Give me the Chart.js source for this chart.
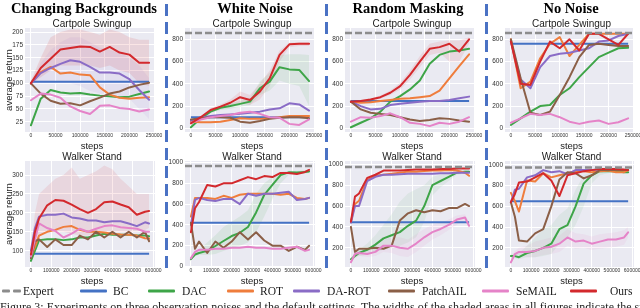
<!DOCTYPE html>
<html>
<head>
<meta charset="utf-8">
<script src="https://cdn.jsdelivr.net/npm/chart.js@4.4.1/dist/chart.umd.min.js"></script>
<style>
body { margin: 0; width: 640px; height: 308px; overflow: hidden; background: #fff; position: relative; font-family: "Liberation Sans", Arial, sans-serif; }
canvas { position: absolute; }
.txt { position: absolute; white-space: nowrap; color: #1a1a1a; }
.hd { font: bold 14.5px "Liberation Serif", serif; transform: translate(-50%, -50%); color: #000; }
.st { font-size: 10px; transform: translate(-50%, -50%); }
.ax { font-size: 9.5px; transform: translate(-50%, -50%); }
.yl { font-size: 9.5px; transform: translate(-50%, -50%) rotate(-90deg); }
.sep { position: absolute; top: 4px; width: 2.5px; height: 266px; background: repeating-linear-gradient(to bottom, #4a72c4 0 12px, transparent 12px 18px); }
.lg { font: 11.5px "Liberation Serif", serif; transform: translateY(-50%); }
.sw { position: absolute; height: 3px; border-radius: 1px; transform: translateY(-50%); }
.cap { font: 12px "Liberation Serif", serif; top: 300px; left: 0; }
</style>
</head>
<body>
<script>
// x positions of the data points
const stepsTop = [0, 20000, 40000, 60000, 80000, 100000, 120000, 140000, 160000, 180000, 200000, 220000, 240000];
const stepsBottom = [0, 20000, 40000, 80000, 120000, 160000, 200000, 240000, 280000, 320000, 360000, 400000, 440000, 480000, 520000, 560000, 580000];
const xTicksTop = [0, 50000, 100000, 150000, 200000, 250000];
const xTicksBottom = [0, 100000, 200000, 300000, 400000, 500000, 600000];

// Changing Backgrounds - Cartpole Swingup
const cbCOurs = [100, 130, 148, 166, 169, 172, 171, 162, 171, 160, 156, 140, 140];
const cbCSeMAIL = [67, 80, 78, 72, 55, 46, 40, 56, 57, 52, 50, 45, 49];
const cbCPatchAIL = [100, 80, 66, 60, 61, 57, 65, 72, 80, 84, 92, 97, 101];
const cbCDAROT = [100, 120, 130, 138, 145, 142, 132, 121, 121, 119, 108, 87, 68];
const cbCROT = [100, 122, 132, 119, 121, 117, 116, 92, 78, 72, 70, 72, 73];
const cbCDAC = [18, 70, 87, 82, 80, 81, 78, 76, 75, 73, 74, 79, 84];
const cbCBC = 103;
const cbCOursHi = [105, 150, 190, 200, 205, 205, 200, 195, 205, 200, 190, 185, 185];
const cbCOursLo = [98, 112, 125, 135, 135, 135, 135, 130, 135, 125, 120, 100, 95];
const cbCDAROTHi = [102, 140, 165, 180, 190, 190, 180, 170, 165, 160, 150, 135, 110];
const cbCDAROTLo = [98, 100, 100, 100, 100, 95, 85, 80, 80, 75, 70, 50, 30];

// White Noise - Cartpole Swingup
const wnCOurs = [45, 100, 165, 195, 230, 280, 255, 330, 450, 660, 755, 760, 760];
const wnCSeMAIL = [50, 80, 100, 110, 120, 140, 150, 130, 100, 95, 40, 30, 80];
const wnCPatchAIL = [80, 90, 100, 100, 95, 60, 50, 65, 85, 95, 100, 100, 90];
const wnCDAROT = [70, 95, 110, 120, 125, 130, 140, 150, 170, 180, 225, 215, 160];
const wnCROT = [60, 55, 55, 60, 75, 90, 85, 85, 90, 100, 110, 110, 110];
const wnCDAC = [10, 90, 150, 185, 200, 220, 240, 360, 420, 550, 530, 525, 425];
const wnCBC = 100;
const wnCExpert = 858;
const wnCDACHi = [15, 100, 165, 205, 225, 245, 270, 420, 500, 660, 665, 665, 660];
const wnCDACLo = [5, 80, 135, 165, 175, 195, 210, 300, 340, 430, 400, 380, 200];
const wnCOursHi = [55, 110, 180, 215, 260, 330, 300, 400, 520, 700, 770, 775, 775];
const wnCOursLo = [40, 90, 150, 175, 200, 230, 210, 260, 380, 600, 730, 740, 740];

// Random Masking - Cartpole Swingup
const rmCOurs = [240, 245, 260, 280, 320, 380, 480, 600, 715, 730, 760, 690, 800];
const rmCSeMAIL = [60, 100, 95, 110, 135, 100, 50, 40, 20, 50, 40, 60, 100];
const rmCPatchAIL = [240, 170, 140, 130, 120, 100, 80, 65, 75, 90, 85, 70, 60];
const rmCDAROT = [240, 200, 170, 175, 210, 220, 230, 240, 245, 245, 255, 270, 285];
const rmCROT = [240, 230, 235, 245, 255, 265, 270, 280, 290, 340, 450, 560, 665];
const rmCDAC = [10, 50, 90, 150, 240, 290, 350, 430, 580, 660, 690, 700, 715];
const rmCBC = 245;
const rmCExpert = 858;
const rmCOursHi = [250, 255, 270, 295, 340, 410, 520, 650, 760, 780, 790, 790, 820];
const rmCOursLo = [235, 240, 250, 265, 300, 350, 440, 550, 660, 680, 600, 600, 760];

// No Noise - Cartpole Swingup
const nnCOurs = [780, 400, 390, 600, 780, 720, 800, 700, 850, 850, 800, 750, 850];
const nnCSeMAIL = [50, 90, 130, 120, 130, 100, 60, 40, 60, 70, 40, 55, 90];
const nnCPatchAIL = [800, 450, 140, 120, 150, 300, 460, 640, 750, 760, 750, 740, 740];
const nnCDAROT = [780, 440, 360, 550, 650, 670, 680, 700, 720, 780, 790, 830, 850];
const nnCROT = [800, 360, 420, 630, 760, 820, 650, 750, 850, 850, 850, 850, 850];
const nnCDAC = [30, 90, 150, 200, 210, 300, 360, 460, 550, 640, 680, 720, 725];
const nnCBC = 760;
const nnCExpert = 858;

// Changing Backgrounds - Walker Stand
const cbWOurs = [90, 150, 185, 220, 234, 232, 222, 210, 200, 210, 228, 230, 222, 215, 195, 203, 205];
const cbWSeMAIL = [85, 130, 172, 160, 152, 135, 145, 158, 150, 158, 165, 167, 162, 160, 158, 150, 150];
const cbWPatchAIL = [80, 125, 130, 110, 130, 115, 115, 140, 130, 150, 135, 150, 135, 150, 135, 150, 125];
const cbWDAROT = [100, 160, 190, 195, 195, 198, 188, 185, 180, 180, 175, 178, 178, 172, 165, 175, 172];
const cbWROT = [85, 110, 140, 150, 155, 163, 165, 155, 150, 150, 148, 145, 143, 142, 140, 133, 132];
const cbWDAC = [73, 100, 128, 130, 130, 128, 130, 135, 135, 140, 145, 142, 142, 142, 140, 140, 138];
const cbWBC = 92;
const cbWOursHi = [100, 200, 250, 270, 290, 300, 320, 290, 300, 310, 325, 315, 290, 270, 250, 250, 250];
const cbWOursLo = [80, 110, 140, 150, 150, 150, 145, 140, 140, 145, 150, 150, 150, 150, 150, 155, 160];

// White Noise - Walker Stand
const wnWOurs = [330, 560, 620, 785, 770, 800, 800, 830, 860, 840, 870, 860, 900, 900, 890, 910, 930];
const wnWSeMAIL = [80, 140, 160, 160, 170, 170, 180, 180, 190, 180, 180, 170, 170, 180, 190, 150, 160];
const wnWPatchAIL = [420, 170, 240, 130, 240, 180, 240, 330, 260, 330, 250, 200, 200, 150, 190, 160, 200];
const wnWDAROT = [400, 640, 660, 640, 630, 650, 650, 600, 700, 680, 700, 700, 710, 720, 640, 650, 660];
const wnWROT = [480, 660, 660, 660, 650, 680, 660, 690, 700, 700, 700, 700, 690, 700, 660, 650, 660];
const wnWDAC = [70, 115, 130, 150, 197, 245, 293, 324, 380, 520, 690, 785, 880, 906, 905, 910, 915];
const wnWBC = 420;
const wnWExpert = 968;
const wnWDACHi = [80, 140, 160, 230, 300, 380, 430, 480, 540, 700, 800, 860, 910, 920, 920, 925, 925];
const wnWDACLo = [60, 100, 110, 110, 120, 150, 180, 200, 230, 330, 480, 650, 800, 880, 890, 895, 900];

// Random Masking - Walker Stand
const rmWOurs = [450, 690, 720, 870, 900, 940, 940, 940, 945, 950, 950, 950, 955, 955, 960, 960, 960];
const rmWSeMAIL = [60, 140, 150, 140, 160, 220, 220, 200, 190, 240, 300, 350, 380, 420, 470, 490, 410];
const rmWPatchAIL = [400, 160, 190, 190, 200, 190, 220, 460, 530, 560, 540, 560, 550, 580, 580, 620, 600];
const rmWDAROT = [440, 600, 600, 840, 880, 900, 900, 905, 910, 910, 910, 910, 915, 915, 920, 920, 920];
const rmWROT = [450, 620, 650, 850, 890, 900, 910, 920, 930, 930, 935, 940, 940, 945, 940, 920, 890];
const rmWDAC = [90, 120, 150, 180, 230, 290, 320, 350, 410, 460, 600, 800, 840, 880, 920, 930, 930];
const rmWBC = 445;
const rmWExpert = 975;
const rmWDACHi = [100, 140, 180, 240, 320, 420, 520, 640, 720, 760, 800, 880, 900, 920, 940, 945, 945];
const rmWDACLo = [80, 100, 120, 130, 160, 180, 200, 220, 250, 300, 450, 700, 780, 840, 900, 910, 910];
const rmWSeMAILHi = [70, 160, 180, 170, 200, 280, 300, 300, 280, 330, 380, 420, 440, 470, 510, 520, 440];
const rmWSeMAILLo = [50, 120, 120, 110, 120, 160, 150, 120, 110, 160, 220, 280, 320, 370, 420, 460, 380];

// No Noise - Walker Stand
const nnWOurs = [640, 720, 830, 840, 880, 920, 850, 700, 900, 920, 940, 950, 960, 960, 960, 955, 950];
const nnWSeMAIL = [60, 140, 160, 160, 170, 200, 210, 240, 300, 260, 270, 240, 260, 280, 280, 300, 350];
const nnWPatchAIL = [640, 500, 270, 260, 340, 380, 600, 860, 930, 920, 870, 900, 950, 950, 950, 950, 950];
const nnWDAROT = [640, 760, 770, 880, 900, 950, 930, 940, 910, 950, 950, 950, 955, 955, 950, 950, 950];
const nnWROT = [730, 650, 550, 850, 840, 920, 880, 900, 920, 940, 940, 930, 940, 945, 930, 930, 950];
const nnWDAC = [120, 120, 110, 150, 170, 200, 240, 380, 420, 600, 820, 900, 940, 940, 940, 930, 930];
const nnWBC = 650;
const nnWExpert = 975;
const nnWDACHi = [140, 150, 150, 220, 300, 380, 420, 520, 580, 760, 900, 930, 950, 950, 950, 940, 940];
const nnWDACLo = [100, 100, 90, 110, 110, 120, 140, 240, 300, 420, 600, 820, 900, 920, 930, 920, 920];
const nnWSeMAILHi = [80, 170, 200, 220, 260, 280, 300, 320, 380, 340, 330, 310, 330, 340, 350, 370, 400];
const nnWSeMAILLo = [40, 120, 130, 110, 110, 130, 140, 160, 220, 190, 200, 180, 190, 200, 210, 230, 300];

// y tick labels
const yTicksCbC = [25, 50, 75, 100, 125, 150, 175, 200];
const yTicksCart = [0, 200, 400, 600, 800];
const yTicksCbW = [100, 150, 200, 250, 300];
const yTicksWnW = [0, 200, 400, 600, 800, 1000];
const yTicksWalker = [200, 400, 600, 800, 1000];

const colors = {
    'Expert': '#8c8c8c', 'BC': '#4472c4', 'DAC': '#3ea548', 'ROT': '#ef7d3c',
    'DA-ROT': '#8a6cc6', 'PatchAIL': '#8b5f47', 'SeMAIL': '#e583c8', 'Ours': '#d3292d'
};

function band(hex, alpha) {
    const n = parseInt(hex.slice(1), 16);
    return `rgba(${n >> 16},${(n >> 8) & 255},${n & 255},${alpha})`;
}

const colLeft = [25, 185, 345, 505];
const rowTop = [28, 161];
const rowHeight = [104, 106];

const panels = [
    { col: 0, row: 0, title: 'Cartpole Swingup', steps: stepsTop, xTicks: xTicksTop, yMin: 5, yMax: 208, yTicks: yTicksCbC,
      lines: { 'Ours': cbCOurs, 'SeMAIL': cbCSeMAIL, 'PatchAIL': cbCPatchAIL, 'DA-ROT': cbCDAROT, 'ROT': cbCROT, 'DAC': cbCDAC },
      bc: cbCBC, expert: null,
      bands: [['Ours', cbCOursHi, cbCOursLo, 0.12], ['DA-ROT', cbCDAROTHi, cbCDAROTLo, 0.08]] },
    { col: 1, row: 0, title: 'Cartpole Swingup', steps: stepsTop, xTicks: xTicksTop, yMin: -33, yMax: 902, yTicks: yTicksCart,
      lines: { 'Ours': wnCOurs, 'SeMAIL': wnCSeMAIL, 'PatchAIL': wnCPatchAIL, 'DA-ROT': wnCDAROT, 'ROT': wnCROT, 'DAC': wnCDAC },
      bc: wnCBC, expert: wnCExpert,
      bands: [['DAC', wnCDACHi, wnCDACLo, 0.1], ['Ours', wnCOursHi, wnCOursLo, 0.1]] },
    { col: 2, row: 0, title: 'Cartpole Swingup', steps: stepsTop, xTicks: xTicksTop, yMin: -33, yMax: 902, yTicks: yTicksCart,
      lines: { 'Ours': rmCOurs, 'SeMAIL': rmCSeMAIL, 'PatchAIL': rmCPatchAIL, 'DA-ROT': rmCDAROT, 'ROT': rmCROT, 'DAC': rmCDAC },
      bc: rmCBC, expert: rmCExpert,
      bands: [['Ours', rmCOursHi, rmCOursLo, 0.1]] },
    { col: 3, row: 0, title: 'Cartpole Swingup', steps: stepsTop, xTicks: xTicksTop, yMin: -33, yMax: 902, yTicks: yTicksCart,
      lines: { 'Ours': nnCOurs, 'SeMAIL': nnCSeMAIL, 'PatchAIL': nnCPatchAIL, 'DA-ROT': nnCDAROT, 'ROT': nnCROT, 'DAC': nnCDAC },
      bc: nnCBC, expert: nnCExpert, bands: [] },
    { col: 0, row: 1, title: 'Walker Stand', steps: stepsBottom, xTicks: xTicksBottom, yMin: 57, yMax: 337, yTicks: yTicksCbW,
      lines: { 'Ours': cbWOurs, 'SeMAIL': cbWSeMAIL, 'PatchAIL': cbWPatchAIL, 'DA-ROT': cbWDAROT, 'ROT': cbWROT, 'DAC': cbWDAC },
      bc: cbWBC, expert: null,
      bands: [['Ours', cbWOursHi, cbWOursLo, 0.1]] },
    { col: 1, row: 1, title: 'Walker Stand', steps: stepsBottom, xTicks: xTicksBottom, yMin: -5, yMax: 1015, yTicks: yTicksWnW,
      lines: { 'Ours': wnWOurs, 'SeMAIL': wnWSeMAIL, 'PatchAIL': wnWPatchAIL, 'DA-ROT': wnWDAROT, 'ROT': wnWROT, 'DAC': wnWDAC },
      bc: wnWBC, expert: wnWExpert,
      bands: [['DAC', wnWDACHi, wnWDACLo, 0.1]] },
    { col: 2, row: 1, title: 'Walker Stand', steps: stepsBottom, xTicks: xTicksBottom, yMin: 15, yMax: 1032, yTicks: yTicksWalker,
      lines: { 'Ours': rmWOurs, 'SeMAIL': rmWSeMAIL, 'PatchAIL': rmWPatchAIL, 'DA-ROT': rmWDAROT, 'ROT': rmWROT, 'DAC': rmWDAC },
      bc: rmWBC, expert: rmWExpert,
      bands: [['DAC', rmWDACHi, rmWDACLo, 0.08], ['SeMAIL', rmWSeMAILHi, rmWSeMAILLo, 0.1]] },
    { col: 3, row: 1, title: 'Walker Stand', steps: stepsBottom, xTicks: xTicksBottom, yMin: 15, yMax: 1038, yTicks: yTicksWalker,
      lines: { 'Ours': nnWOurs, 'SeMAIL': nnWSeMAIL, 'PatchAIL': nnWPatchAIL, 'DA-ROT': nnWDAROT, 'ROT': nnWROT, 'DAC': nnWDAC },
      bc: nnWBC, expert: nnWExpert,
      bands: [['DAC', nnWDACHi, nnWDACLo, 0.08], ['SeMAIL', nnWSeMAILHi, nnWSeMAILLo, 0.1]] }
];

const headers = ['Changing Backgrounds', 'White Noise', 'Random Masking', 'No Noise'];
const headerX = [84, 255, 408, 571];
const legendNames = ['Expert', 'BC', 'DAC', 'ROT', 'DA-ROT', 'PatchAIL', 'SeMAIL', 'Ours'];
const legendX = [2, 80, 148, 227, 293, 388, 482, 570];

const bgPlugin = {
    id: 'bg',
    beforeDraw(chart) {
        const a = chart.chartArea;
        chart.ctx.save();
        chart.ctx.fillStyle = '#eaeaf2';
        chart.ctx.fillRect(a.left, a.top, a.right - a.left, a.bottom - a.top);
        chart.ctx.restore();
    }
};

function addText(cls, text, x, y) {
    const d = document.createElement('div');
    d.className = 'txt ' + cls;
    d.textContent = text;
    d.style.left = x + 'px';
    d.style.top = y + 'px';
    document.body.appendChild(d);
    return d;
}

const AXW = 22, PADT = 6, PADR = 12, AXH = 10;

panels.forEach(p => {
    const left = colLeft[p.col], top = rowTop[p.row], h = rowHeight[p.row];
    const w = p.col === 3 ? 129 : 130;
    const cv = document.createElement('canvas');
    cv.width = AXW + w + PADR;
    cv.height = PADT + h + AXH;
    cv.style.left = (left - AXW) + 'px';
    cv.style.top = (top - PADT) + 'px';
    cv.style.width = cv.width + 'px';
    cv.style.height = cv.height + 'px';
    document.body.appendChild(cv);

    const xMin = p.row === 0 ? -12000 : -29000;
    const xMax = p.row === 0 ? 252000 : 609000;
    const first = p.steps[0], last = p.steps[p.steps.length - 1];
    const datasets = [];

    if (p.expert !== null) {
        datasets.push({ label: 'Expert', data: [{ x: xMin, y: p.expert }, { x: xMax, y: p.expert }],
            borderColor: colors['Expert'], borderWidth: 2.5, borderDash: [7, 3], pointRadius: 0, order: 0 });
    }
    Object.keys(p.lines).forEach((name, i) => {
        datasets.push({ label: name, data: p.steps.map((s, j) => ({ x: s, y: p.lines[name][j] })),
            borderColor: colors[name], borderWidth: 2, pointRadius: 0, tension: 0,
            borderJoinStyle: 'round', borderCapStyle: 'round', order: 1 + i });
    });
    datasets.push({ label: 'BC', data: [{ x: first, y: p.bc }, { x: last, y: p.bc }],
        borderColor: colors['BC'], borderWidth: 2, pointRadius: 0, order: 8 });
    p.bands.forEach(([name, hi, lo, alpha]) => {
        datasets.push({ label: name + ' hi', data: p.steps.map((s, j) => ({ x: s, y: hi[j] })),
            borderWidth: 0, pointRadius: 0, fill: '+1', backgroundColor: band(colors[name], alpha), order: 20 });
        datasets.push({ label: name + ' lo', data: p.steps.map((s, j) => ({ x: s, y: lo[j] })),
            borderWidth: 0, pointRadius: 0, fill: false, order: 20 });
    });

    new Chart(cv.getContext('2d'), {
        type: 'line',
        data: { datasets },
        plugins: [bgPlugin],
        options: {
            responsive: false,
            animation: false,
            devicePixelRatio: 1,
            layout: { padding: { top: PADT, right: PADR, left: 0, bottom: 0 } },
            plugins: { legend: { display: false }, tooltip: { enabled: false } },
            scales: {
                x: {
                    type: 'linear', min: xMin, max: xMax,
                    afterBuildTicks: s => { s.ticks = p.xTicks.map(v => ({ value: v })); },
                    afterFit: s => { s.height = AXH; },
                    ticks: { font: { size: 5, family: 'Liberation Sans' }, color: '#333', padding: 1,
                        maxRotation: 0, autoSkip: false, callback: v => String(v) },
                    grid: { color: '#ffffff', lineWidth: 1, drawTicks: false },
                    border: { display: false }
                },
                y: {
                    min: p.yMin, max: p.yMax,
                    afterBuildTicks: s => { s.ticks = p.yTicks.map(v => ({ value: v })); },
                    afterFit: s => { s.width = AXW; },
                    ticks: { font: { size: 6.5, family: 'Liberation Sans' }, color: '#333', padding: 2,
                        autoSkip: false, callback: v => String(v) },
                    grid: { color: '#ffffff', lineWidth: 1, drawTicks: false },
                    border: { display: false }
                }
            }
        }
    });

    addText('st', p.title, left + w / 2 + 2, top - 5);
    addText('ax', 'steps', left + w / 2 + 2, top + h + 13);
    if (p.col === 0) addText('yl', 'average return', 8, top + h / 2);
});

headers.forEach((t, i) => addText('hd', t, headerX[i], 8));

[165, 325, 485].forEach(x => {
    const s = document.createElement('div');
    s.className = 'sep';
    s.style.left = x + 'px';
    document.body.appendChild(s);
});

legendNames.forEach((name, i) => {
    const x = legendX[i];
    if (name === 'Expert') {
        [0, 11].forEach(dx => {
            const d = document.createElement('div');
            d.className = 'sw';
            d.style.cssText = `left:${x + dx}px;top:291px;width:8px;background:${colors[name]}`;
            document.body.appendChild(d);
        });
        addText('lg', name, x + 21, 291);
    } else {
        const d = document.createElement('div');
        d.className = 'sw';
        d.style.cssText = `left:${x}px;top:291px;width:27px;background:${colors[name]}`;
        document.body.appendChild(d);
        addText('lg', name, x + (name === 'Ours' ? 40 : name === 'BC' || name === 'ROT' ? 33 : 34), 291);
    }
});

addText('cap', 'Figure 3: Experiments on three observation noises and the default settings. The widths of the shaded areas in all figures indicate the standard devi', 0, 300);
</script>
</body>
</html>
